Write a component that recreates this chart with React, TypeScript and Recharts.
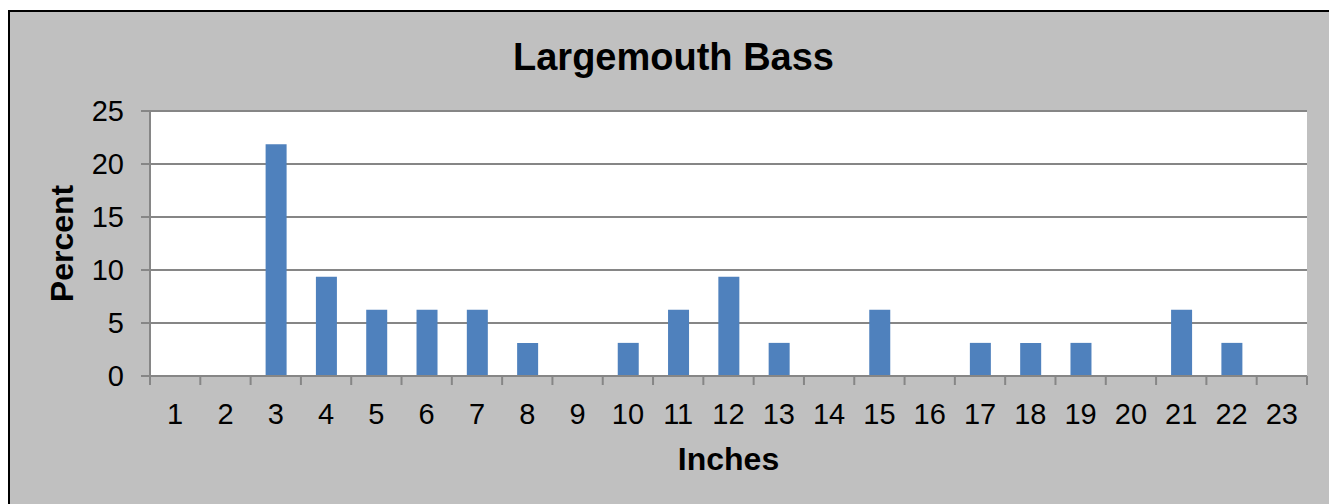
import { BarChart, Bar, XAxis, YAxis, CartesianGrid, Label } from 'recharts';

const inches = ['1', '2', '3', '4', '5', '6', '7', '8', '9', '10', '11', '12', '13', '14', '15', '16', '17', '18', '19', '20', '21', '22', '23'];
const percent = [0, 0, 21.875, 9.375, 6.25, 6.25, 6.25, 3.125, 0, 3.125, 6.25, 9.375, 3.125, 0, 6.25, 0, 3.125, 3.125, 3.125, 0, 6.25, 3.125, 0];
const yTicks = [0, 5, 10, 15, 20, 25];

const data = inches.map((inch, i) => ({ inch, pct: percent[i] }));

const FONT = '"Liberation Sans", Arial, sans-serif';
const AXIS = '#868686';
const W = 1319;
const H = 492;
const M = { top: 99, right: 22, bottom: 0, left: 0 };
const Y_W = 140;
const X_GAP = 27;
const HALF_BAND = (W - M.left - M.right - Y_W) / inches.length / 2;

// excel-style tick marks sit between categories, not under them
function InchTick({ x, y, payload, index }: any) {
  const top = y - X_GAP;
  return (
    <g>
      <line x1={x - HALF_BAND} x2={x - HALF_BAND} y1={top} y2={top + 9} stroke={AXIS} strokeWidth={2} />
      {index === inches.length - 1 && (
        <line x1={x + HALF_BAND} x2={x + HALF_BAND} y1={top} y2={top + 9} stroke={AXIS} strokeWidth={2} />
      )}
      <text x={x} y={y} dy="0.71em" textAnchor="middle" fontSize={29} fontFamily={FONT} fill="#000">
        {payload.value}
      </text>
    </g>
  );
}

export default function App() {
  return (
    <div style={{ position: 'absolute', left: 0, top: 0, width: 1329, height: 504, background: '#fff', overflow: 'hidden', fontFamily: FONT }}>
      <div
        style={{
          position: 'absolute', left: 8, top: 10, width: 1321, height: 494,
          background: '#c0c0c0', borderLeft: '2px solid #000', borderTop: '2px solid #000',
        }}
      >
        <div style={{ position: 'absolute', left: 0, width: W, top: 23, textAlign: 'center', fontSize: 38, lineHeight: '44px', fontWeight: 'bold', color: '#000' }}>
          <span style={{ marginLeft: 8 }}>Largemouth Bass</span>
        </div>
        <BarChart width={W} height={H} data={data} margin={M}>
          <CartesianGrid vertical={false} stroke={AXIS} strokeWidth={2} fill="#fff" />
          <XAxis
            dataKey="inch"
            height={128}
            axisLine={{ stroke: AXIS, strokeWidth: 2 }}
            tickLine={false}
            tickSize={0}
            tickMargin={X_GAP}
            tick={<InchTick />}
            interval={0}
          >
            <Label
              content={({ viewBox }: any) => (
                <text x={viewBox.x + viewBox.width / 2} y={viewBox.y + 83} textAnchor="middle" dominantBaseline="central" fontSize={32} fontWeight="bold" fontFamily={FONT} fill="#000">
                  Inches
                </text>
              )}
            />
          </XAxis>
          <YAxis
            width={Y_W}
            domain={[0, 25]}
            ticks={yTicks}
            interval={0}
            axisLine={{ stroke: AXIS, strokeWidth: 2 }}
            tickLine={{ stroke: AXIS, strokeWidth: 2 }}
            tickSize={9}
            tickMargin={17}
            tick={{ fill: '#000', fontSize: 29, fontFamily: FONT }}
          >
            <Label
              content={({ viewBox }: any) => {
                const cx = viewBox.x + 52;
                const cy = viewBox.y + viewBox.height / 2;
                return (
                  <text x={cx} y={cy} transform={`rotate(-90 ${cx} ${cy})`} textAnchor="middle" dominantBaseline="central" fontSize={32} fontWeight="bold" fontFamily={FONT} fill="#000">
                    Percent
                  </text>
                );
              }}
            />
          </YAxis>
          <Bar dataKey="pct" fill="#4f81bd" barSize={21} isAnimationActive={false} />
        </BarChart>
      </div>
    </div>
  );
}
